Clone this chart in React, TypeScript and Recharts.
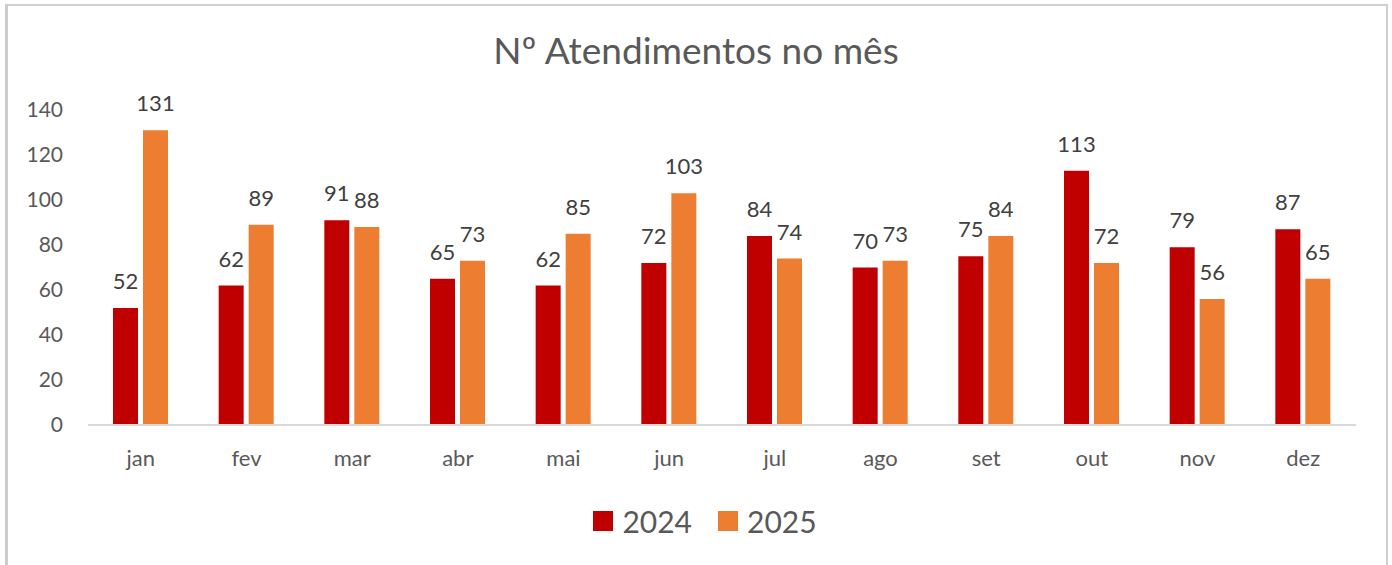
import React from 'react';
import { BarChart, Bar, XAxis, YAxis, Legend, LabelList } from 'recharts';

const months = ['jan', 'fev', 'mar', 'abr', 'mai', 'jun', 'jul', 'ago', 'set', 'out', 'nov', 'dez'];
const values2024 = [52, 62, 91, 65, 62, 72, 84, 70, 75, 113, 79, 87];
const values2025 = [131, 89, 88, 73, 85, 103, 74, 73, 84, 72, 56, 65];
const yTicks = [0, 20, 40, 60, 80, 100, 120, 140];

const series = [
  { key: 'y2024', name: '2024', color: '#C00000' },
  { key: 'y2025', name: '2025', color: '#ED7D31' },
];

const FONT = 'Lato, "Open Sans", sans-serif';

const data = months.map((m, i) => ({ month: m, y2024: values2024[i], y2025: values2025[i] }));

const LegendBox = () => (
  <div style={{ display: 'flex', justifyContent: 'center', alignItems: 'center', gap: 26, fontFamily: FONT }}>
    {series.map(s => (
      <div key={s.key} style={{ display: 'flex', alignItems: 'center', gap: 9 }}>
        <span style={{ width: 20, height: 20, background: s.color, display: 'inline-block' }} />
        <span style={{ fontSize: 30, color: '#595959' }}>{s.name}</span>
      </div>
    ))}
  </div>
);

export default function App() {
  return (
    <div style={{ position: 'fixed', left: 0, top: 0, width: 1392, height: 565, overflow: 'hidden', background: '#fff' }}>
      <div style={{ position: 'absolute', left: 0, top: 27, width: 1392, textAlign: 'center', fontFamily: FONT, fontSize: 37, color: '#595959' }}>
        Nº Atendimentos no mês
      </div>
      <div style={{ position: 'absolute', left: 0, top: 0 }}>
        <BarChart width={1392} height={565} data={data} margin={{ top: 110, right: 36, bottom: 0, left: 0 }} barSize={25} barGap={5}>
          <XAxis
            dataKey="month"
            height={140}
            tickLine={false}
            tickSize={0}
            tickMargin={25}
            axisLine={{ stroke: '#d9d9d9', strokeWidth: 2 }}
            tick={{ fontSize: 22, fill: '#595959', fontFamily: FONT }}
          />
          <YAxis
            width={88}
            domain={[0, 140]}
            ticks={yTicks}
            axisLine={false}
            tickLine={false}
            tickSize={0}
            tickMargin={25}
            tick={{ fontSize: 21, fill: '#595959', fontFamily: FONT }}
          />
          <Legend verticalAlign="middle" align="center" wrapperStyle={{ top: 503, left: 9, width: 1392 }} content={() => <LegendBox />} />
          {series.map(s => (
            <Bar key={s.key} dataKey={s.key} name={s.name} fill={s.color} isAnimationActive={false}>
              <LabelList dataKey={s.key} position="top" offset={19} style={{ fontSize: 22, fill: '#404040', fontFamily: FONT }} />
            </Bar>
          ))}
        </BarChart>
      </div>
      <div
        style={{
          position: 'absolute', left: 5, top: 4, width: 1383, height: 620, boxSizing: 'border-box',
          borderTop: '2px solid #d0d0d0', borderRight: '2px solid #d0d0d0', borderLeft: '3px solid #cccccc',
          pointerEvents: 'none', zIndex: 5,
        }}
      />
    </div>
  );
}
